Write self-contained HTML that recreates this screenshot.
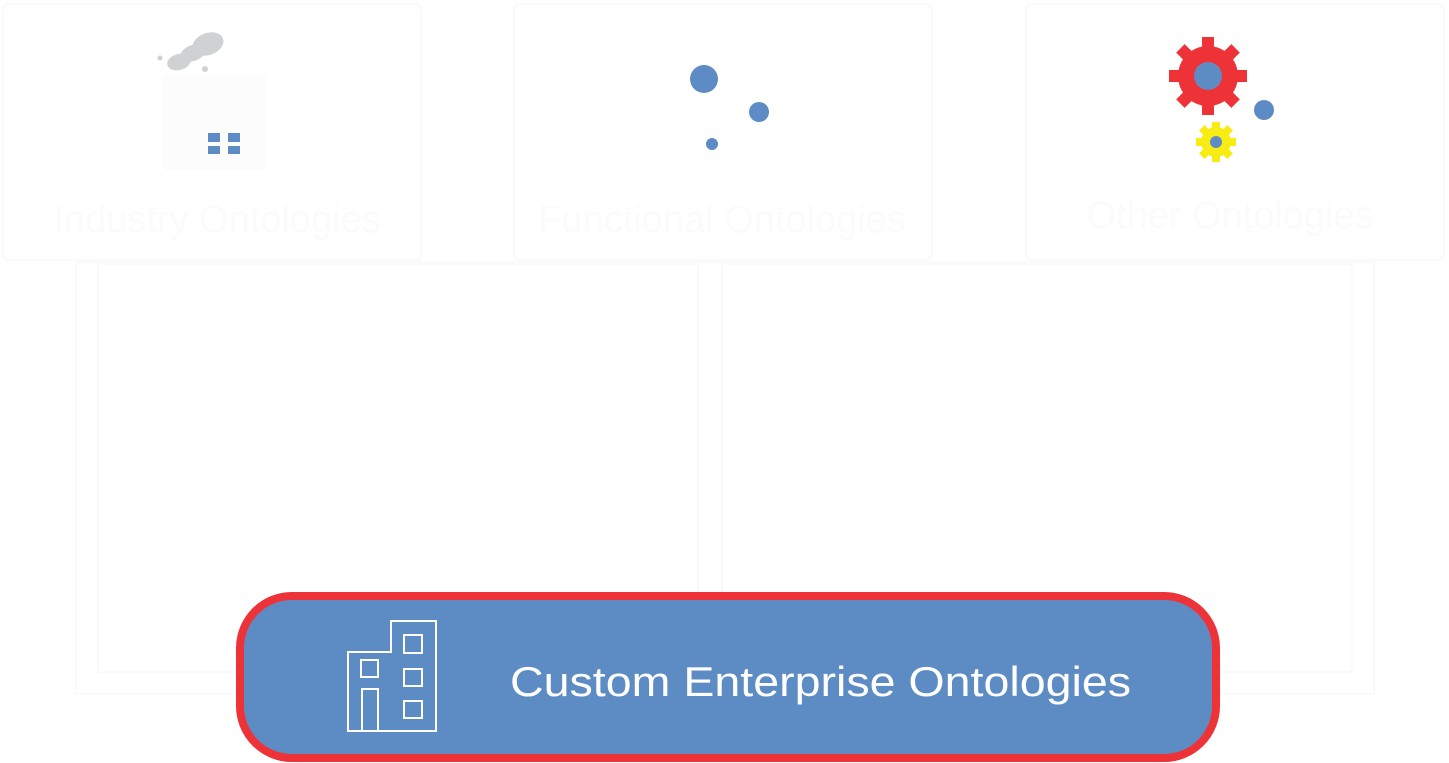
<!DOCTYPE html>
<html><head><meta charset="utf-8"><style>html,body{margin:0;padding:0;background:#fff;width:1449px;height:763px;overflow:hidden}</style></head>
<body>
<svg width="1449" height="763" viewBox="0 0 1449 763" xmlns="http://www.w3.org/2000/svg">
<g fill="none" stroke="#fafafa" stroke-width="2">
<rect x="3" y="4" width="418" height="256" rx="6"/>
<rect x="514" y="4" width="418" height="256" rx="6"/>
<rect x="1026" y="4" width="418" height="256" rx="6"/>
<rect x="76" y="262" width="1298" height="432"/>
<rect x="98" y="264" width="600" height="408"/>
<rect x="722" y="264" width="630" height="408"/>
</g>
<g font-family="Liberation Sans, sans-serif" font-size="38" fill="#fbfbfb" text-anchor="middle">
<text x="217" y="232">Industry Ontologies</text>
<text x="722" y="232">Functional Ontologies</text>
<text x="1230" y="228">Other Ontologies</text>
</g>
<rect x="163" y="74" width="102" height="96" fill="#fcfcfc"/>
<g fill="#d0d1d3">
<ellipse cx="208" cy="44" rx="16" ry="11" transform="rotate(-20 208 44)"/>
<ellipse cx="193" cy="53" rx="13" ry="8" transform="rotate(-20 193 53)"/>
<ellipse cx="179" cy="62" rx="12" ry="8" transform="rotate(-15 179 62)"/>
<circle cx="160" cy="58" r="2.5"/><circle cx="205" cy="69" r="3"/>
</g>
<g fill="#5d8cc4">
<rect x="208" y="133" width="12" height="9"/><rect x="228" y="133" width="12" height="9"/>
<rect x="208" y="146" width="12" height="8"/><rect x="228" y="146" width="12" height="8"/>
<circle cx="704" cy="79" r="14"/><circle cx="759" cy="112" r="10"/><circle cx="712" cy="144" r="6"/>
<circle cx="1264" cy="110" r="10"/>
</g>
<g transform="translate(1208,76)" fill="#ee3338">
<circle r="30"/>
<g><rect x="-6" y="-39" width="12" height="78"/><rect x="-39" y="-6" width="78" height="12"/>
<rect x="-6" y="-39" width="12" height="78" transform="rotate(45)"/><rect x="-6" y="-39" width="12" height="78" transform="rotate(-45)"/></g>
<circle r="14" fill="#5d8cc4"/>
</g>
<g transform="translate(1216,142)" fill="#f7ec13">
<circle r="15"/>
<rect x="-4" y="-20" width="8" height="40"/><rect x="-20" y="-4" width="40" height="8"/>
<rect x="-4" y="-20" width="8" height="40" transform="rotate(45)"/><rect x="-4" y="-20" width="8" height="40" transform="rotate(-45)"/>
<circle r="6" fill="#5d8cc4"/>
</g>
<rect x="240" y="596" width="976" height="162" rx="52" fill="#5d8cc4" stroke="#ee3338" stroke-width="8"/>
<g fill="none" stroke="#fff" stroke-width="2">
<path d="M348 731 V652 H391 V621 H436 V731 Z"/>
<rect x="361" y="660" width="17" height="17"/>
<rect x="362" y="689" width="16" height="42"/>
<rect x="404" y="635" width="18" height="18"/>
<rect x="404" y="669" width="18" height="17"/>
<rect x="404" y="701" width="18" height="17"/>
</g>
<text x="510" y="696" font-family="Liberation Sans, sans-serif" font-size="42" fill="#fff" textLength="621" lengthAdjust="spacingAndGlyphs">Custom Enterprise Ontologies</text>
</svg>
</body></html>
